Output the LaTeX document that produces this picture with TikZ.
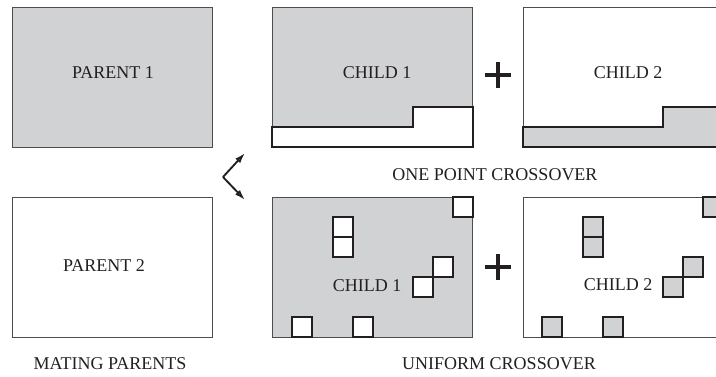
\documentclass[tikz,border=0pt]{standalone}
\usepackage{fontspec}
\setmainfont{Liberation Serif}
\usetikzlibrary{arrows.meta}
\definecolor{boxgrey}{RGB}{209,210,212}
\definecolor{ink}{RGB}{35,31,32}
\begin{document}
\begin{tikzpicture}[x=0.75pt,y=-0.75pt,
  lbl/.style={font=\fontsize{13.5}{16}\selectfont, text=ink, inner sep=0pt},
  chrom/.style={draw=ink!80, line width=0.75pt, minimum width=150pt, minimum height=105pt, inner sep=0pt, outer sep=0pt, anchor=north west},
  seg/.style={draw=ink, line width=1.5pt, line join=miter},
  gene/.style={draw=ink, line width=1.5pt, minimum size=15pt, inner sep=0pt, outer sep=0pt, anchor=north west},
  plusbar/.style={draw=ink, line width=2.3pt},
  arr/.style={draw=ink, line width=1.4pt, -{Latex[open,length=8pt,width=5pt]}}
]
\useasboundingbox (0,0) rectangle (716,376);
\clip (0,0) rectangle (716,376);

% parents
\node[chrom, fill=boxgrey] (p1) at (12,7) {};
\node[chrom, fill=white] (p2) at (12,197) {};
\node[lbl] (p1t) at (113,73) {PARENT 1};
\node[lbl] (p2t) at (104,266) {PARENT 2};
\node[lbl] (mp) at (110,364) {MATING PARENTS};

% arrows
\coordinate (v) at (223,177);
\coordinate (ta) at (245,153);
\coordinate (tb) at (245,200);
\draw[arr] (v) -- (ta);
\draw[arr] (v) -- (tb);

% one point crossover
\node[chrom, fill=boxgrey] (c1) at (272,7) {};
\draw[seg, fill=white] (272,127) -- (413,127) -- (413,107) -- (473,107) -- (473,147) -- (272,147) -- cycle;
\node[chrom, fill=white] (c2) at (523,7) {};
\draw[seg, fill=boxgrey] (523,127) -- (663,127) -- (663,107) -- (723,107) -- (723,147) -- (523,147) -- cycle;
\node[lbl] (c1t) at (377,73) {CHILD 1};
\node[lbl] (c2t) at (628,73) {CHILD 2};
\coordinate (plusA) at (498,75);
\draw[plusbar] ([xshift=-10pt]plusA) -- ([xshift=10pt]plusA);
\draw[plusbar] ([yshift=-10pt]plusA) -- ([yshift=10pt]plusA);
\node[lbl] (opc) at (495,175) {ONE POINT CROSSOVER};

% uniform crossover
\node[chrom, fill=boxgrey] (u1) at (272,197) {};
\node[chrom, fill=white] (u2) at (523,197) {};
\foreach \x/\f/\n in {272/white/a, 522/boxgrey/b}{
  \node[gene, fill=\f] (g1\n) at (\x+181,197) {};
  \node[gene, fill=\f] (g2\n) at (\x+61,217) {};
  \node[gene, fill=\f] (g3\n) at (\x+61,237) {};
  \node[gene, fill=\f] (g4\n) at (\x+161,257) {};
  \node[gene, fill=\f] (g5\n) at (\x+141,277) {};
  \node[gene, fill=\f] (g6\n) at (\x+20,317) {};
  \node[gene, fill=\f] (g7\n) at (\x+81,317) {};
}
\node[lbl] (u1t) at (367,286) {CHILD 1};
\node[lbl] (u2t) at (618,285) {CHILD 2};
\coordinate (plusB) at (498,267);
\draw[plusbar] ([xshift=-10pt]plusB) -- ([xshift=10pt]plusB);
\draw[plusbar] ([yshift=-10pt]plusB) -- ([yshift=10pt]plusB);
\node[lbl] (uc) at (499,364) {UNIFORM CROSSOVER};
\end{tikzpicture}
\end{document}
